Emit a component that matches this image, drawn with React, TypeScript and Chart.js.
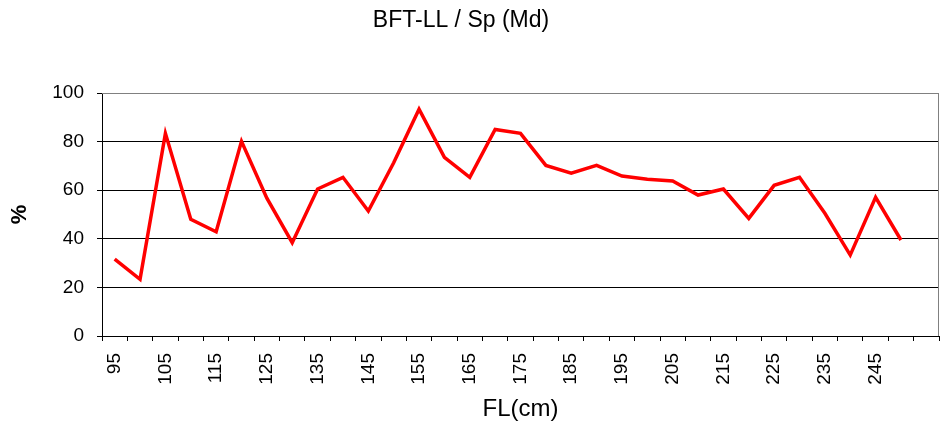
import React, { useEffect, useRef } from "react";
import { Chart, registerables } from "chart.js";

Chart.register(...registerables);

const titleText = "BFT-LL / Sp (Md)";
const xTitle = "FL(cm)";
const yTitle = "%";

const categories: string[] = [
  "95", "100", "105", "110", "115", "120", "125", "130", "135", "140", "145",
  "150", "155", "160", "165", "170", "175", "180", "185", "190", "195", "200",
  "205", "210", "215", "220", "225", "230", "235", "240", "245", "250", "",
];

const pct: (number | null)[] = [
  31.6, 23.3, 83.4, 48.0, 42.9, 80.1, 56.7, 38.4, 60.5, 65.3, 51.4,
  71.3, 93.3, 73.5, 65.3, 85.0, 83.4, 70.2, 67.0, 70.2, 65.8, 64.5,
  63.8, 58.0, 60.5, 48.4, 62.0, 65.3, 50.5, 33.3, 57.1, 39.5, null,
];

const yTicks = { min: 0, max: 100, step: 20 };

const FONT = "'Liberation Sans', Arial, sans-serif";

const framePlugin = {
  id: "frame",
  beforeDatasetsDraw(chart: any) {
    const { ctx, chartArea } = chart;
    ctx.save();
    ctx.strokeStyle = "#808080";
    ctx.lineWidth = 1;
    ctx.beginPath();
    ctx.moveTo(chartArea.left, chartArea.top + 0.5);
    ctx.lineTo(chartArea.right - 0.5, chartArea.top + 0.5);
    ctx.lineTo(chartArea.right - 0.5, chartArea.bottom);
    ctx.stroke();
    ctx.restore();
  },
  afterDraw(chart: any) {
    const { ctx } = chart;
    ctx.save();
    ctx.fillStyle = "#000";
    ctx.font = `23px ${FONT}`;
    ctx.textAlign = "center";
    ctx.textBaseline = "middle";
    ctx.fillText(titleText, 461, 21);
    ctx.restore();
  },
};

export default function App() {
  const ref = useRef<HTMLCanvasElement>(null);
  useEffect(() => {
    if (!ref.current) return;
    const chart = new Chart(ref.current, {
      type: "line",
      data: {
        labels: categories,
        datasets: [
          {
            data: pct,
            borderColor: "#FF0000",
            backgroundColor: "#FF0000",
            borderWidth: 3.5,
            pointRadius: 0,
            tension: 0,
            spanGaps: false,
          },
        ],
      },
      options: {
        animation: false,
        responsive: false,
        devicePixelRatio: 1,
        layout: { padding: { top: 93, right: 4, left: 0, bottom: 0 } },
        plugins: {
          legend: { display: false },
          title: { display: false },
          tooltip: { enabled: false },
        },
        scales: {
          x: {
            offset: true,
            afterFit(scale: any) {
              scale.height = 97;
              scale.paddingRight = 0;
              scale.paddingLeft = 0;
            },
            grid: {
              offset: true,
              drawOnChartArea: false,
              drawTicks: true,
              tickLength: 5,
              color: "#000",
              tickColor: "#000",
            },
            border: { color: "#000", width: 1 },
            ticks: {
              autoSkip: false,
              minRotation: 90,
              maxRotation: 90,
              padding: 12,
              color: "#000",
              font: { family: FONT, size: 19 },
              callback: (_v: any, i: number) => (i % 2 === 0 ? categories[i] : ""),
            },
            title: {
              display: true,
              text: xTitle,
              color: "#000",
              font: { family: FONT, size: 24 },
              padding: { top: 0, bottom: 9 },
            },
          },
          y: {
            min: yTicks.min,
            max: yTicks.max,
            afterFit(scale: any) {
              scale.width = 102;
            },
            grid: {
              color: (c: any) => (c.tick && c.tick.value === 100 ? "#808080" : "#000"),
              tickColor: "#000",
              tickLength: 5,
              lineWidth: 1,
            },
            border: { color: "#000", width: 1 },
            ticks: {
              stepSize: yTicks.step,
              padding: 13,
              color: "#000",
              font: { family: FONT, size: 19 },
            },
            title: {
              display: true,
              text: yTitle,
              color: "#000",
              font: { family: FONT, size: 22, weight: "bold" },
              padding: { top: 7, bottom: 0 },
            },
          },
        },
      },
      plugins: [framePlugin],
    });
    return () => chart.destroy();
  }, []);
  return (
    <div style={{ position: "absolute", left: 0, top: 0, width: 943, height: 433, background: "#fff" }}>
      <canvas ref={ref} width={943} height={433} />
    </div>
  );
}
